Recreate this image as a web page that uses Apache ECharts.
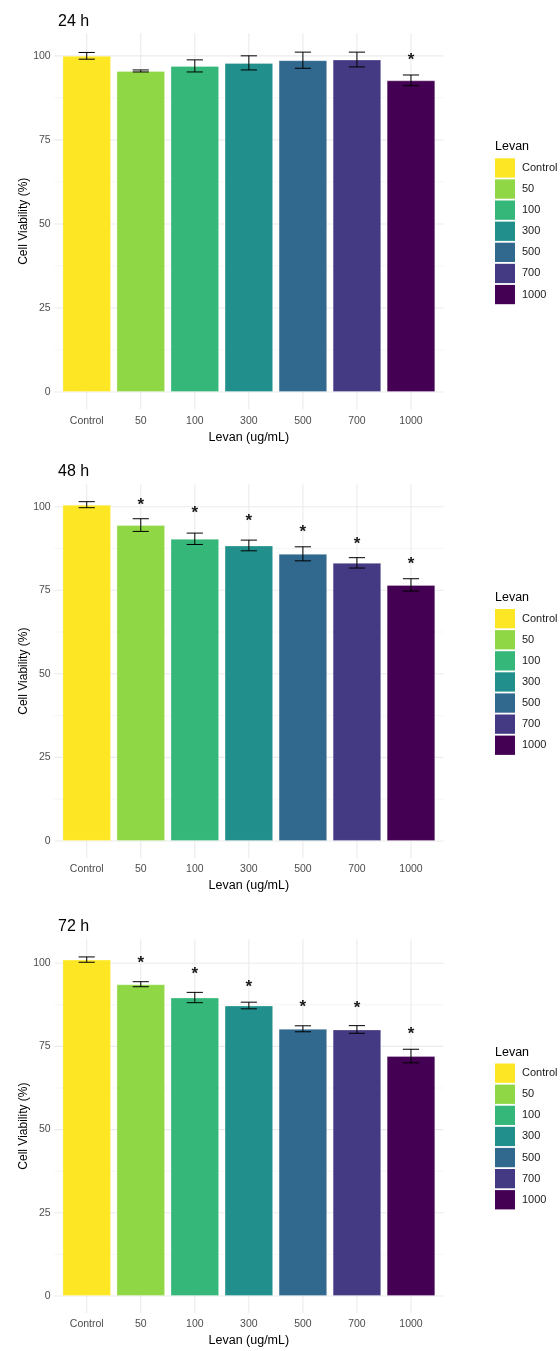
<!DOCTYPE html>
<html>
<head>
<meta charset="utf-8">
<script src="https://cdn.jsdelivr.net/npm/echarts@6/dist/echarts.min.js"></script>
<style>
  html, body { margin: 0; padding: 0; background: #ffffff; }
  #chart { width: 560px; height: 1351px; }
</style>
</head>
<body>
<div id="chart"></div>
<script>
// Levan concentrations (x categories) and viridis fill colours
const categories = ['Control', '50', '100', '300', '500', '700', '1000'];
const fillColors = ['#FDE725', '#8FD744', '#35B779', '#21908C', '#31688E', '#443A83', '#440154'];

// Panel titles (exposure time)
const panelTitles = ['24 h', '48 h', '72 h'];

// Mean cell viability (%) and standard deviation per concentration
const mean24 = [100.0, 95.5, 97.0, 97.9, 98.7, 98.9, 92.7];
const sd24   = [1.0, 0.3, 1.8, 2.1, 2.4, 2.2, 1.6];
const mean48 = [100.6, 94.5, 90.4, 88.4, 85.9, 83.2, 76.6];
const sd48   = [0.9, 1.9, 1.7, 1.6, 2.1, 1.55, 1.85];
const mean72 = [101.1, 93.7, 89.7, 87.3, 80.3, 80.1, 72.1];
const sd72   = [0.8, 0.75, 1.55, 1.0, 0.9, 1.15, 2.05];

// Height at which the significance asterisk sits (null = not significant)
const star24 = [null, null, null, null, null, null, 99.9];
const star48 = [null, 101.5, 99.2, 96.8, 93.5, 89.9, 84.1];
const star72 = [null, 101.1, 97.8, 94.0, 88.0, 87.7, 79.7];

// Y tick labels and gridline values
const yTicks = [0, 25, 50, 75, 100];
const yMinorTicks = [12.5, 37.5, 62.5, 87.5];

const means = [mean24, mean48, mean72];
const sds = [sd24, sd48, sd72];
const stars = [star24, star48, star72];

// Layout of the three stacked panels
const FONT = '"Liberation Sans", Arial, sans-serif';
const panelTop = [33.3, 484.3, 939.3];
const panelBottom = [409.2, 858.0, 1312.9];
const yMin = -5.1;
const yMax = [106.7, 106.7, 107.2];
const titleTop = [14, 464, 919];
const legendTitleTop = [140.5, 591.2, 1046.2];
const legendTop = [158.3, 609, 1063.5];
const H = 1351;

const option = {
  animation: false,
  backgroundColor: '#ffffff',
  textStyle: { fontFamily: FONT },
  title: [],
  legend: [],
  grid: [],
  xAxis: [],
  yAxis: [],
  series: []
};

for (let p = 0; p < 3; p++) {
  option.title.push({
    text: panelTitles[p], left: 58, top: titleTop[p], padding: 0,
    textStyle: { fontFamily: FONT, fontSize: 16, fontWeight: 'normal', color: '#000000' }
  });
  option.title.push({
    text: 'Levan', left: 495, top: legendTitleTop[p], padding: 0,
    textStyle: { fontFamily: FONT, fontSize: 12.5, fontWeight: 'normal', color: '#000000' }
  });
  option.legend.push({
    data: categories, orient: 'vertical', left: 495, top: legendTop[p],
    padding: 0, itemWidth: 20, itemHeight: 19.3, itemGap: 1.8, icon: 'rect',
    selectedMode: false,
    itemStyle: { borderWidth: 0 },
    textStyle: { fontFamily: FONT, fontSize: 11, lineHeight: 12, color: '#1a1a1a', padding: [0, 0, 0, 2] }
  });
  option.grid.push({
    left: 54.3, right: 116.6, top: panelTop[p], bottom: H - panelBottom[p],
    containLabel: false
  });
  option.xAxis.push({
    type: 'value', gridIndex: p, min: -0.6, max: 6.6,
    name: 'Levan (ug/mL)', nameLocation: 'middle', nameGap: 21.5,
    nameTextStyle: { fontFamily: FONT, fontSize: 12.5, color: '#000000' },
    axisLine: { show: false }, axisTick: { show: false }, splitLine: { show: false },
    axisLabel: {
      customValues: categories.map((c, i) => i),
      formatter: v => categories[Math.round(v)],
      fontFamily: FONT, fontSize: 10.5, color: '#4d4d4d', margin: 6
    }
  });
  option.yAxis.push({
    type: 'value', gridIndex: p, min: yMin, max: yMax[p],
    name: 'Cell Viability (%)', nameLocation: 'middle', nameGap: 25, nameRotate: 90,
    nameMoveOverlap: false,
    nameTextStyle: { fontFamily: FONT, fontSize: 12, color: '#000000' },
    axisLine: { show: false }, axisTick: { show: false }, splitLine: { show: false },
    axisLabel: {
      customValues: yTicks,
      fontFamily: FONT, fontSize: 10.5, color: '#4d4d4d', margin: 3.6
    }
  });

  // Panel gridlines: horizontal major/minor and vertical at category centres
  const gridData = [];
  yTicks.forEach(v => gridData.push(['h', v, 1]));
  yMinorTicks.forEach(v => gridData.push(['h', v, 0]));
  categories.forEach((c, i) => gridData.push(['v', i, 1]));
  option.series.push({
    type: 'custom', xAxisIndex: p, yAxisIndex: p, z: 0, silent: true,
    data: gridData,
    encode: { x: 1, y: 1 },
    renderItem: function (params, api) {
      const cs = params.coordSys;
      const kind = gridData[params.dataIndex][0];
      const v = gridData[params.dataIndex][1];
      const major = gridData[params.dataIndex][2];
      let shape;
      if (kind === 'h') {
        const y = api.coord([0, v])[1];
        shape = { x1: cs.x, y1: y, x2: cs.x + cs.width, y2: y };
      } else {
        const x = api.coord([v, 0])[0];
        shape = { x1: x, y1: cs.y, x2: x, y2: cs.y + cs.height };
      }
      return {
        type: 'line', shape: shape,
        style: { stroke: major ? '#ebebeb' : '#f2f2f2', lineWidth: major ? 1.1 : 0.8 }
      };
    }
  });

  // One bar series per concentration so each gets its legend key
  categories.forEach((c, i) => {
    option.series.push({
      type: 'bar', name: c, xAxisIndex: p, yAxisIndex: p,
      stack: 'panel' + p, barWidth: 48.6, z: 2,
      itemStyle: { color: fillColors[i], borderColor: 'rgba(255,255,255,0.28)', borderWidth: 1 },
      data: [[i, means[p][i]]]
    });
  });

  // Error bars (mean ± sd)
  option.series.push({
    type: 'custom', xAxisIndex: p, yAxisIndex: p, z: 5, silent: true,
    data: categories.map((c, i) => [i, means[p][i], sds[p][i]]),
    encode: { x: 0, y: 1 },
    renderItem: function (params, api) {
      const x = api.value(0), m = api.value(1), s = api.value(2);
      const top = api.coord([x, m + s]);
      const bot = api.coord([x, m - s]);
      const hw = api.size([0.3, 0])[0] / 2;
      const st = { stroke: '#000000', lineWidth: 1 };
      return {
        type: 'group', children: [
          { type: 'line', shape: { x1: top[0], y1: top[1], x2: bot[0], y2: bot[1] }, style: st },
          { type: 'line', shape: { x1: top[0] - hw, y1: top[1], x2: top[0] + hw, y2: top[1] }, style: st },
          { type: 'line', shape: { x1: bot[0] - hw, y1: bot[1], x2: bot[0] + hw, y2: bot[1] }, style: st }
        ]
      };
    }
  });

  // Significance asterisks
  const starData = [];
  stars[p].forEach((v, i) => { if (v !== null) starData.push([i, v]); });
  option.series.push({
    type: 'custom', xAxisIndex: p, yAxisIndex: p, z: 6, silent: true,
    data: starData,
    encode: { x: 0, y: 1 },
    renderItem: function (params, api) {
      const pt = api.coord([api.value(0), api.value(1)]);
      return {
        type: 'text', x: pt[0], y: pt[1] + 4,
        style: {
          text: '*', fontFamily: FONT, fontSize: 17, fontWeight: 'bold',
          fill: '#1a1a1a', align: 'center', verticalAlign: 'middle'
        }
      };
    }
  });
}

const chart = echarts.init(document.getElementById('chart'), null, { renderer: 'canvas' });
chart.setOption(option);
</script>
</body>
</html>
